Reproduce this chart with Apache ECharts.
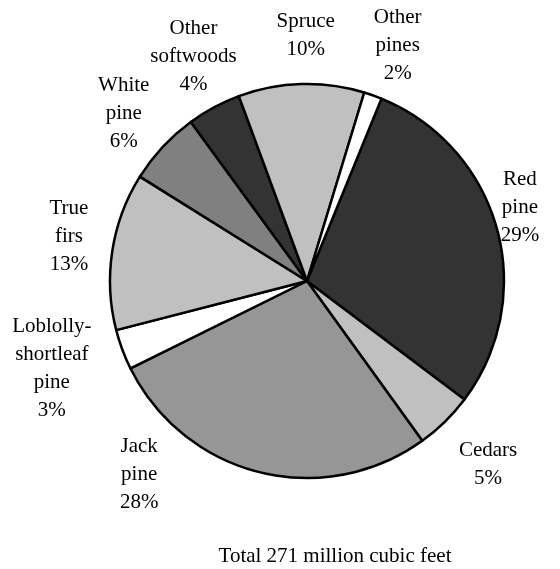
<!DOCTYPE html>
<html>
<head>
<meta charset="utf-8">
<script src="https://cdn.jsdelivr.net/npm/echarts@6/dist/echarts.min.js"></script>
<style>html,body{margin:0;padding:0;background:#fff}#c{width:560px;height:569px}</style>
</head>
<body>
<div id="c"></div>
<script>
// Data (million cubic feet), clockwise from Red pine
var categories = ['Red\npine', 'Cedars', 'Jack\npine', 'Loblolly-\nshortleaf\npine', 'True\nfirs', 'White\npine', 'Other\nsoftwoods', 'Spruce', 'Other\npines'];
var values = [79, 13, 75, 9, 35, 16.5, 12, 28, 4];
var percentLabels = ['29%', '5%', '28%', '3%', '13%', '6%', '4%', '10%', '2%'];
var colors = ['#333333', '#c0c0c0', '#969696', '#ffffff', '#c0c0c0', '#808080', '#333333', '#c0c0c0', '#ffffff'];
var labelOffsets = [[-31, -6], [4, 3], [-107, -52], [-18, -1], [12, -6], [2, 5], [6, -2], [6, 7], [6, 3]];
var totalText = 'Total 271 million cubic feet';

var FONT = '"Liberation Serif", "Times New Roman", serif';
var chart = echarts.init(document.getElementById('c'), null, {renderer: 'canvas'});

var mainData = values.map(function (v, i) {
  return {value: v, name: categories[i], itemStyle: {color: colors[i]}};
});
var labelData = values.map(function (v, i) {
  return {value: v, name: categories[i], label: {offset: labelOffsets[i]}};
});

chart.setOption({
  animation: false,
  title: {
    text: totalText,
    left: 330,
    top: 541,
    textAlign: 'center',
    textStyle: {fontFamily: FONT, fontSize: 21, fontWeight: 'normal', color: '#000'}
  },
  series: [
    {
      type: 'pie',
      center: [307, 281],
      radius: [0, 197],
      startAngle: 67.8,
      clockwise: true,
      silent: true,
      label: {show: false},
      labelLine: {show: false},
      itemStyle: {borderColor: '#000', borderWidth: 2.5},
      data: mainData
    },
    {
      type: 'pie',
      center: [307, 281],
      radius: [245, 255],
      startAngle: 67.8,
      clockwise: true,
      silent: true,
      itemStyle: {color: 'rgba(0,0,0,0)', borderWidth: 0},
      labelLine: {show: false},
      label: {
        show: true,
        position: 'inside',
        fontFamily: FONT,
        fontSize: 21,
        lineHeight: 28,
        color: '#000',
        align: 'center',
        formatter: function (p) { return p.name + '\n' + percentLabels[p.dataIndex]; }
      },
      data: labelData
    }
  ]
});
</script>
</body>
</html>
